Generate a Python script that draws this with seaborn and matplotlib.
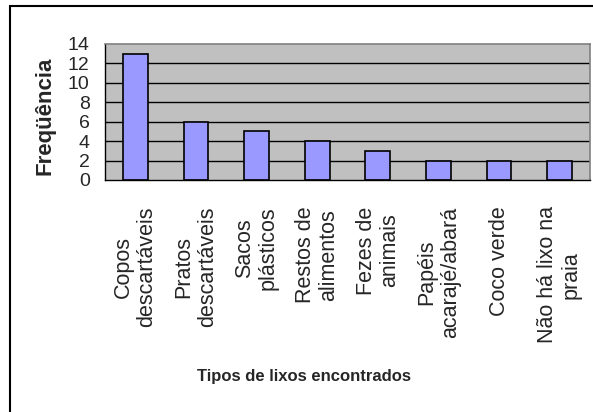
import matplotlib
matplotlib.use("Agg")
import matplotlib.pyplot as plt
import matplotlib.patches as mpatches
import seaborn as sns
import pandas as pd

categorias = ["Copos\ndescartáveis", "Pratos\ndescartáveis", "Sacos\nplásticos",
              "Restos de\nalimentos", "Fezes de\nanimais", "Papéis\nacarajé/abará",
              "Coco verde", "Não há lixo na\npraia"]
frequencia = [13, 6, 5, 4, 3, 2, 2, 2]
yticks = [0, 2, 4, 6, 8, 10, 12, 14]

sns.set_style("white")
plt.rcParams['font.family'] = ['Liberation Sans', 'DejaVu Sans']

df = pd.DataFrame({"tipo": categorias, "freq": frequencia})

fig = plt.figure(figsize=(5.93, 4.12), dpi=100)
ax = fig.add_axes([105 / 593, 1 - 180 / 412, 485 / 593, 136 / 412])

# outer chart border (only left/top visible, the rest is cropped)
fig.patches.append(mpatches.Rectangle((10 / 593, -0.1), 1.2, 406 / 412 + 0.1,
                                      transform=fig.transFigure, fill=False,
                                      edgecolor="black", linewidth=1.5, zorder=0))

ax.set_facecolor("#C0C0C0")
for y in yticks[1:-1]:
    ax.axhline(y, color="black", linewidth=1.0, zorder=1)

sns.barplot(data=df, x="tipo", y="freq", ax=ax, color="#9999FF", width=0.41,
            edgecolor="black", linewidth=1.2, saturation=1, zorder=2)

ax.set_xlim(-0.5, len(categorias) - 0.5)
ax.set_ylim(0, 14)
ax.set_yticks(yticks)
ax.set_yticklabels([str(v) for v in yticks], fontsize=14)
ax.set_xticks([i + 0.5 for i in range(-1, len(categorias))], minor=False)
ax.set_xticklabels([])
ax.set_xticks(range(len(categorias)), minor=True)
ax.set_xticklabels(categorias, minor=True, rotation=90, fontsize=15.5,
                   ha="center", va="top", multialignment="center", linespacing=1.15)
ax.tick_params(axis="x", which="minor", length=0, pad=19)
ax.tick_params(axis="x", which="major", direction="out", length=6, width=1, color="black")
ax.tick_params(axis="y", direction="out", length=5, width=1, color="black", pad=6)

for s in ["top", "right"]:
    ax.spines[s].set_color("#808080")
    ax.spines[s].set_linewidth(1.2)
for s in ["left", "bottom"]:
    ax.spines[s].set_color("black")
    ax.spines[s].set_linewidth(1.0)

ax.set_xlabel("")
ax.set_ylabel("Freqüência", fontsize=16, fontweight="bold")
ax.yaxis.set_label_coords(-0.103, 0.474)
fig.text(0.513, 1 - 377 / 412, "Tipos de lixos encontrados", ha="center", va="center",
         fontsize=12, fontweight="bold")

fig.savefig("out.png", dpi=100)
